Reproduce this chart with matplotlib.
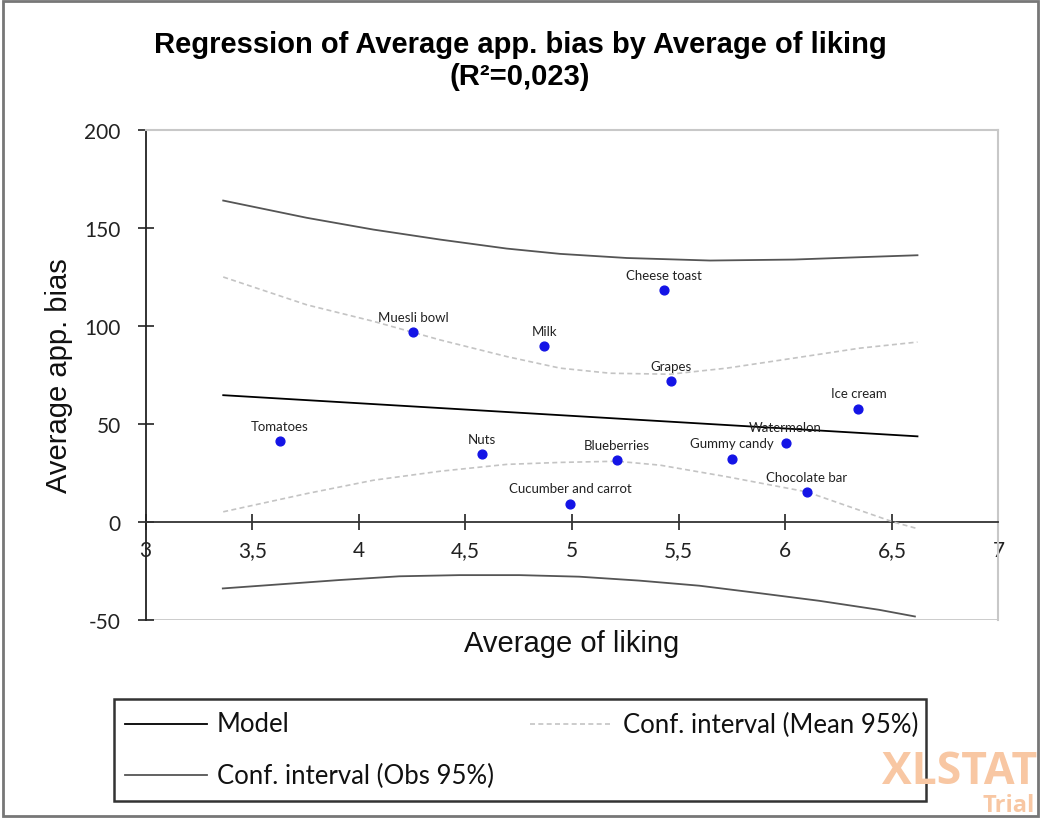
import matplotlib.pyplot as plt
from matplotlib.lines import Line2D
from matplotlib.patches import Rectangle

# Points
foods = ["Tomatoes", "Muesli bowl", "Nuts", "Milk", "Cucumber and carrot",
         "Blueberries", "Cheese toast", "Grapes", "Gummy candy", "Watermelon",
         "Chocolate bar", "Ice cream"]
liking = [3.63, 4.255, 4.576, 4.870, 4.991, 5.210, 5.433, 5.463, 5.749, 6.002, 6.100, 6.343]
bias = [41.3, 97.0, 34.8, 89.6, 9.4, 31.4, 118.4, 71.7, 32.3, 40.5, 15.2, 57.8]

# Model line and confidence bands
model_x = [3.364, 6.62]
model_y = [64.7, 43.7]

obs_upper_x = [3.364, 3.756, 4.068, 4.381, 4.694, 4.944, 5.256, 5.647, 6.04, 6.35, 6.62]
obs_upper_y = [164.0, 155.2, 149.2, 144.1, 139.5, 136.8, 134.7, 133.4, 133.9, 135.1, 136.1]
obs_lower_x = [3.362, 3.91, 4.19, 4.472, 4.753, 5.034, 5.315, 5.597, 5.878, 6.159, 6.44, 6.608]
obs_lower_y = [-33.9, -29.6, -27.7, -27.1, -27.1, -27.9, -29.9, -32.5, -36.3, -40.2, -44.8, -48.2]

mean_upper_x = [3.364, 3.756, 4.068, 4.381, 4.694, 4.944, 5.178, 5.46, 5.726, 6.04, 6.35, 6.62]
mean_upper_y = [125.0, 110.8, 102.4, 92.9, 84.4, 78.5, 75.9, 75.4, 78.5, 83.6, 88.7, 91.8]
mean_lower_x = [3.364, 3.756, 4.068, 4.381, 4.694, 4.944, 5.21, 5.413, 5.726, 6.1, 6.507, 6.62]
mean_lower_y = [5.2, 14.5, 21.3, 25.9, 29.4, 30.4, 31.0, 29.0, 23.1, 15.4, 0.0, -3.4]

x_ticks = [3, 3.5, 4, 4.5, 5, 5.5, 6, 6.5, 7]
y_ticks = [-50, 0, 50, 100, 150, 200]

title = "Regression of Average app. bias by Average of liking\n(R²=0,023)"
legend_labels = ["Model", "Conf. interval (Mean 95%)", "Conf. interval (Obs 95%)"]

SANS = ["Liberation Sans", "DejaVu Sans"]
TICKFONT = ["Lato", "DejaVu Sans"]

plt.rcParams["axes.unicode_minus"] = False

W, H = 1042, 820
fig = plt.figure(figsize=(W / 100, H / 100), dpi=100)
ax = fig.add_axes([145.6 / W, 1 - 621 / H, (998.5 - 145.6) / W, (621 - 131) / H])

obs_color = "#555555"
mean_color = "#c4c4c4"

ax.plot(model_x, model_y, color="black", lw=1.3, zorder=3)
ax.plot(obs_upper_x, obs_upper_y, color=obs_color, lw=1.3, zorder=3)
ax.plot(obs_lower_x, obs_lower_y, color=obs_color, lw=1.3, zorder=3)
ax.plot(mean_upper_x, mean_upper_y, color=mean_color, lw=1.2, ls=(0, (3, 2)), zorder=3)
ax.plot(mean_lower_x, mean_lower_y, color=mean_color, lw=1.2, ls=(0, (3, 2)), zorder=3)
ax.scatter(liking, bias, s=40, color="#1414e6", zorder=4)

for name, x, y in zip(foods, liking, bias):
    ax.annotate(name, (x, y), xytext=(0, 11), textcoords="offset points",
                ha="center", va="center", fontsize=9.5, family=TICKFONT, color="#222222")

ax.set_xlim(3, 7)
ax.set_ylim(-50, 200)
ax.set_xticks(x_ticks)
ax.set_xticklabels([f"{t:g}".replace(".", ",") for t in x_ticks])
ax.set_yticks(y_ticks)

ax.spines["bottom"].set_position(("data", 0))
ax.spines["bottom"].set_color("#333333")
ax.spines["bottom"].set_linewidth(1.3)
ax.spines["left"].set_color("#222222")
ax.spines["left"].set_linewidth(1.3)
for side in ["top", "right"]:
    ax.spines[side].set_color("#c8c8c8")
    ax.spines[side].set_linewidth(1.5)
ax.axhline(-50, color="#c8c8c8", lw=2.0, zorder=1)

ax.tick_params(axis="both", direction="inout", length=12, width=1.2, color="#222222",
               labelsize=15, labelcolor="#222222")
ax.tick_params(axis="x", pad=7)
ax.tick_params(axis="y", pad=12)
for lab in ax.get_xticklabels() + ax.get_yticklabels():
    lab.set_family(TICKFONT)

ax.set_xlabel("Average of liking", fontsize=21, family=SANS, color="#111111")
ax.xaxis.label.set_va("center")
ax.xaxis.set_label_coords(0.5, -0.047)
ax.set_ylabel("Average app. bias", fontsize=21, family=SANS, color="#111111")
ax.yaxis.label.set_va("center")
ax.yaxis.set_label_coords(-0.101, 0.5)

# title
fig.text(520 / W, 1 - 61 / H, title, ha="center", va="center", fontsize=21,
         fontweight="bold", family=SANS, linespacing=1.2)

# overlay for frame, legend and watermark, in pixel coordinates
ov = fig.add_axes([0, 0, 1, 1], zorder=5)
ov.set_xlim(0, W)
ov.set_ylim(H, 0)
ov.axis("off")
ov.patch.set_alpha(0)

ov.add_patch(Rectangle((3, 2), 1035, 815, fill=False, ec="#777777", lw=2))

ov.text(1037, 773, "XLSTAT", ha="right", va="center", fontsize=32, fontweight="bold",
        family=["Open Sans", "DejaVu Sans"], color="#f8c7a3")
ov.text(1035, 806, "Trial", ha="right", va="center", fontsize=17, fontweight="bold",
        family=["Open Sans", "DejaVu Sans"], color="#f8c7a3")

ov.add_patch(Rectangle((114, 700), 812, 102, fill=False, ec="#333333", lw=1.8))
ov.add_line(Line2D([125, 207], [725, 725], color="black", lw=1.3))
ov.add_line(Line2D([530, 612], [725, 725], color=mean_color, lw=1.2, ls=(0, (3, 2))))
ov.add_line(Line2D([125, 207], [776, 776], color=obs_color, lw=1.3))
legend_pos = [(217, 725), (623, 725), (217, 776)]
for label, (lx, ly) in zip(legend_labels, legend_pos):
    ov.text(lx, ly, label, ha="left", va="center", fontsize=18.5, family=TICKFONT,
            color="#111111")

fig.savefig("out.png", dpi=100)
